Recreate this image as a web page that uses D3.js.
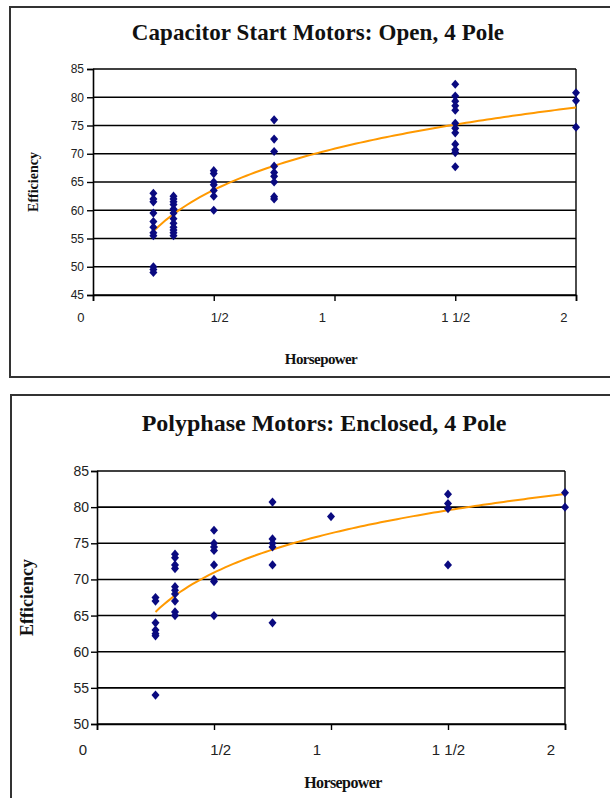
<!DOCTYPE html>
<html>
<head>
<meta charset="utf-8">
<script src="https://cdn.jsdelivr.net/npm/d3@7"></script>
<style>
  html, body { margin: 0; padding: 0; background: #fff; }
  svg { display: block; }
  .tick-label { white-space: pre; }
</style>
</head>
<body>
<svg id="chart" width="610" height="798"></svg>
<script>
// Motor efficiency by horsepower rating, two motor families.
const hpTicks = [0, 0.5, 1, 1.5, 2];

// Capacitor start motors, open, 4 pole
const capHp = [0.25, 1/3, 0.5, 0.75, 1.5, 2];
const capEff = [
  [63, 62, 61.5, 59.5, 58, 57, 56, 55.5, 50, 49.5, 49],
  [62.5, 62, 61.5, 61, 60.2, 59.5, 58.5, 57.7, 57, 56.5, 56, 55.5],
  [67, 66.5, 65, 64.5, 63.5, 62.5, 60],
  [76, 72.6, 70.4, 67.8, 66.7, 66, 65, 62.4, 62],
  [82.3, 80.2, 79.3, 78.5, 77.7, 75.4, 74.5, 73.7, 71.7, 70.7, 70.2, 67.7],
  [80.8, 79.4, 74.7]
];
const capEffTicks = [45, 50, 55, 60, 65, 70, 75, 80, 85];

// Polyphase motors, enclosed, 4 pole
const polyHp = [0.25, 1/3, 0.5, 0.75, 1, 1.5, 2];
const polyEff = [
  [67.5, 67, 64, 63, 62.5, 62.2, 54],
  [73.5, 73, 72, 71.5, 69, 68.5, 68, 67, 65.5, 65],
  [76.8, 75, 74.5, 74, 72, 70, 69.7, 65],
  [80.7, 75.6, 75, 74.5, 72, 64],
  [78.7],
  [81.8, 80.5, 79.8, 72],
  [82, 80]
];
const polyEffTicks = [50, 55, 60, 65, 70, 75, 80, 85];

const svg = d3.select("#chart");
const SERIF = "'Liberation Serif', 'Times New Roman', serif";
const NARROW = "'Liberation Sans Narrow', 'Arial Narrow', 'Liberation Sans', sans-serif";
const MARKER = "#0a0a80";
const TREND = "#ff9900";

// Excel-style "# ?/?" fraction label: whole numbers keep blank room for the fraction.
function fractionLabel(v) {
  const whole = Math.floor(v + 1e-9);
  const frac = v - whole;
  if (frac < 1e-9) return whole + " \u2007\u2007\u2007";
  const num = Math.round(frac * 2);
  return (whole === 0 ? "\u2007 " : whole + " ") + num + "/2";
}

function flatten(hp, eff) {
  const pts = [];
  hp.forEach((h, i) => eff[i].forEach(e => pts.push({ hp: h, eff: e })));
  return pts;
}

// Least-squares logarithmic trend: eff = a + b ln(hp)
function logFit(pts) {
  const n = pts.length;
  const xs = pts.map(p => Math.log(p.hp));
  const ys = pts.map(p => p.eff);
  const mx = d3.mean(xs), my = d3.mean(ys);
  let sxy = 0, sxx = 0;
  for (let i = 0; i < n; i++) {
    sxy += (xs[i] - mx) * (ys[i] - my);
    sxx += (xs[i] - mx) ** 2;
  }
  const b = sxy / sxx;
  return { a: my - b * mx, b };
}

function diamond(hw, hh) {
  return `M0,${-hh}L${hw},0L0,${hh}L${-hw},0Z`;
}

function drawPanel(cfg) {
  const g = svg.append("g");

  // panel frame
  g.append("rect")
    .attr("x", cfg.frame[0]).attr("y", cfg.frame[1])
    .attr("width", cfg.frame[2]).attr("height", cfg.frame[3])
    .attr("fill", "#fff").attr("stroke", "#333").attr("stroke-width", 2);

  const x = d3.scaleLinear().domain([0, 2]).range([cfg.left, cfg.right]);
  const y = d3.scaleLinear().domain(d3.extent(cfg.yTicks)).range([cfg.bottom, cfg.top]);

  // horizontal gridlines
  g.append("g").selectAll("line").data(cfg.yTicks).join("line")
    .attr("x1", cfg.left).attr("x2", cfg.right)
    .attr("y1", d => y(d)).attr("y2", d => y(d))
    .attr("stroke", "#000").attr("stroke-width", 1.6);

  // right edge of plot area
  g.append("line")
    .attr("x1", cfg.right).attr("x2", cfg.right)
    .attr("y1", cfg.top).attr("y2", cfg.bottom)
    .attr("stroke", "#000").attr("stroke-width", 1.4);

  // y axis
  const yAxis = d3.axisLeft(y).tickValues(cfg.yTicks).tickSize(cfg.tickLen).tickPadding(cfg.yPad);
  const ya = g.append("g").attr("transform", `translate(${cfg.left},0)`).call(yAxis);
  ya.select(".domain").attr("stroke", "#000").attr("stroke-width", 1.6);
  ya.selectAll(".tick line").attr("stroke", "#000").attr("stroke-width", 1.4);
  ya.selectAll(".tick text")
    .attr("font-family", NARROW).attr("font-size", cfg.yTickFont).attr("fill", "#222");

  // x axis
  const xAxis = d3.axisBottom(x).tickValues(hpTicks).tickSize(cfg.tickLen)
    .tickPadding(cfg.xPad).tickFormat(fractionLabel);
  const xa = g.append("g").attr("transform", `translate(0,${cfg.bottom})`).call(xAxis);
  xa.select(".domain").attr("stroke", "#000").attr("stroke-width", 1.6);
  xa.selectAll(".tick line").attr("stroke", "#000").attr("stroke-width", 1.4);
  xa.selectAll(".tick text").attr("class", "tick-label")
    .attr("font-family", NARROW).attr("font-size", cfg.xTickFont).attr("fill", "#222");

  // trend line
  const pts = flatten(cfg.hp, cfg.eff);
  const fit = logFit(pts);
  const hpRange = d3.extent(cfg.hp);
  const trendX = d3.range(0, 101).map(i => hpRange[0] + (hpRange[1] - hpRange[0]) * i / 100);
  g.append("path")
    .datum(trendX)
    .attr("fill", "none").attr("stroke", TREND).attr("stroke-width", 2)
    .attr("d", d3.line().x(d => x(d)).y(d => y(fit.a + fit.b * Math.log(d))));

  // data markers
  g.append("g").selectAll("path").data(pts).join("path")
    .attr("transform", d => `translate(${x(d.hp)},${y(d.eff)})`)
    .attr("d", diamond(cfg.markW, cfg.markH))
    .attr("fill", MARKER);

  // titles
  g.append("text")
    .attr("x", cfg.titleX).attr("y", cfg.titleY)
    .attr("text-anchor", "middle")
    .attr("font-family", SERIF).attr("font-weight", "bold")
    .attr("font-size", cfg.titleFont).attr("fill", "#111")
    .attr("letter-spacing", cfg.titleSpacing)
    .text(cfg.title);

  g.append("text")
    .attr("transform", `translate(${cfg.yLabelX},${(cfg.top + cfg.bottom) / 2}) rotate(-90)`)
    .attr("text-anchor", "middle")
    .attr("font-family", SERIF).attr("font-weight", "bold")
    .attr("font-size", cfg.yLabelFont).attr("fill", "#111")
    .text("Efficiency");

  g.append("text")
    .attr("x", cfg.xLabelX).attr("y", cfg.xLabelY)
    .attr("text-anchor", "middle")
    .attr("font-family", SERIF).attr("font-weight", "bold")
    .attr("font-size", cfg.xLabelFont).attr("fill", "#111")
    .attr("letter-spacing", -0.6)
    .text("Horsepower");
}

drawPanel({
  frame: [10, 7, 620, 370],
  left: 93, right: 576, top: 69, bottom: 295,
  hp: capHp, eff: capEff, yTicks: capEffTicks,
  tickLen: 6, yPad: 3, xPad: 12, yTickFont: 12, xTickFont: 13,
  markW: 4, markH: 4.6,
  title: "Capacitor Start Motors: Open, 4 Pole",
  titleX: 318, titleY: 40, titleFont: 23, titleSpacing: 0.1,
  yLabelX: 38, yLabelFont: 14,
  xLabelX: 321, xLabelY: 364, xLabelFont: 15
});

drawPanel({
  frame: [11, 395, 620, 420],
  left: 97, right: 565, top: 471, bottom: 724,
  hp: polyHp, eff: polyEff, yTicks: polyEffTicks,
  tickLen: 6, yPad: 2, xPad: 14, yTickFont: 14, xTickFont: 15,
  markW: 4, markH: 4.6,
  title: "Polyphase Motors: Enclosed, 4 Pole",
  titleX: 324, titleY: 431, titleFont: 24, titleSpacing: 0,
  yLabelX: 33, yLabelFont: 18,
  xLabelX: 343, xLabelY: 788, xLabelFont: 16
});
</script>
</body>
</html>
